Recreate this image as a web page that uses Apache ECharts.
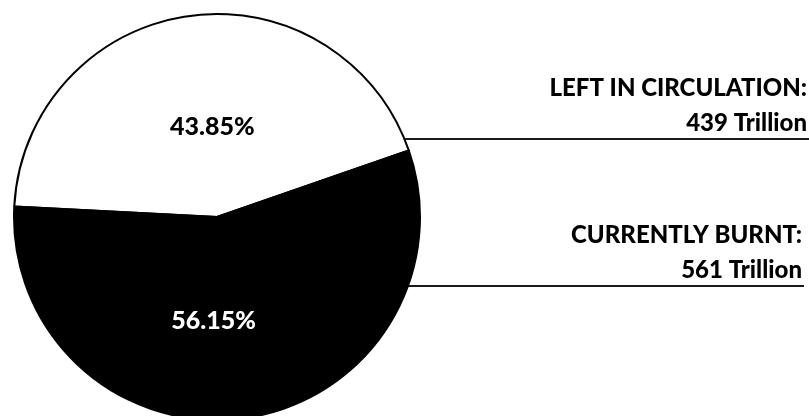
<!DOCTYPE html>
<html>
<head>
<meta charset="utf-8">
<script src="https://cdn.jsdelivr.net/npm/echarts@6/dist/echarts.min.js"></script>
<style>
  html, body { margin: 0; padding: 0; background: #fff; }
  #chart { width: 809px; height: 416px; }
</style>
</head>
<body>
<div id="chart"></div>
<script>
// data
var categories = ['LEFT IN CIRCULATION:', 'CURRENTLY BURNT:'];
var shares = [43.85, 56.15];
var amounts = ['439 Trillion', '561 Trillion'];
var sliceColors = ['#ffffff', '#000000'];
var percentColors = ['#000000', '#ffffff'];

var cx = 217, cy = 217, r = 203;
var font = 'Lato';

var pieData = categories.map(function (name, i) {
  return {
    name: name,
    value: shares[i],
    itemStyle: { color: sliceColors[i] }
  };
});

var myChart = echarts.init(document.getElementById('chart'));

var option = {
  animation: false,
  series: [
    {
      // slices + percentages inside
      type: 'pie',
      center: [cx, cy],
      radius: [0, r],
      startAngle: 177,
      clockwise: true,
      silent: true,
      itemStyle: { borderColor: '#000', borderWidth: 2 },
      label: {
        position: 'inside',
        fontFamily: font,
        fontWeight: 900,
        fontSize: 25,
        formatter: function (p) {
          return p.value.toFixed(2) + '%';
        }
      },
      labelLayout: function (p) {
        var offs = [[10, 13], [-18, 0]];
        return { dx: offs[p.dataIndex][0], dy: offs[p.dataIndex][1] };
      },
      data: pieData.map(function (d, i) {
        return Object.assign({}, d, { label: { color: percentColors[i] } });
      })
    },
    {
      // overlay for the labels on the right
      type: 'pie',
      center: [cx, cy],
      radius: [0, r],
      startAngle: 177,
      clockwise: true,
      silent: true,
      itemStyle: { color: 'transparent', borderWidth: 0 },
      label: {
        position: 'outside',
        overflow: 'none',
        fontFamily: font,
        fontWeight: 900,
        fontSize: 24,
        lineHeight: 35,
        color: '#000',
        formatter: function (p) {
          return '{t|' + p.name + '}\n{t|' + amounts[p.dataIndex] + '}';
        },
        rich: {
          t: { fontFamily: font, fontWeight: 900, fontSize: 24, lineHeight: 35, color: '#000', align: 'right' }
        }
      },
      labelLine: {
        show: true,
        lineStyle: { color: '#1a1a1a', width: 2 }
      },
      labelLayout: function (p) {
        var lineY = [139, 286][p.dataIndex];
        var right = [807, 802][p.dataIndex];
        var x0 = cx + Math.sqrt(r * r - (lineY - cy) * (lineY - cy));
        return {
          x: right,
          y: lineY - 33,
          align: 'right',
          verticalAlign: 'middle',
          labelLinePoints: [[x0, lineY], [right + 2, lineY], [right + 2, lineY]]
        };
      },
      data: pieData.map(function (d) {
        return { name: d.name, value: d.value };
      })
    }
  ]
};

myChart.setOption(option);
</script>
</body>
</html>
